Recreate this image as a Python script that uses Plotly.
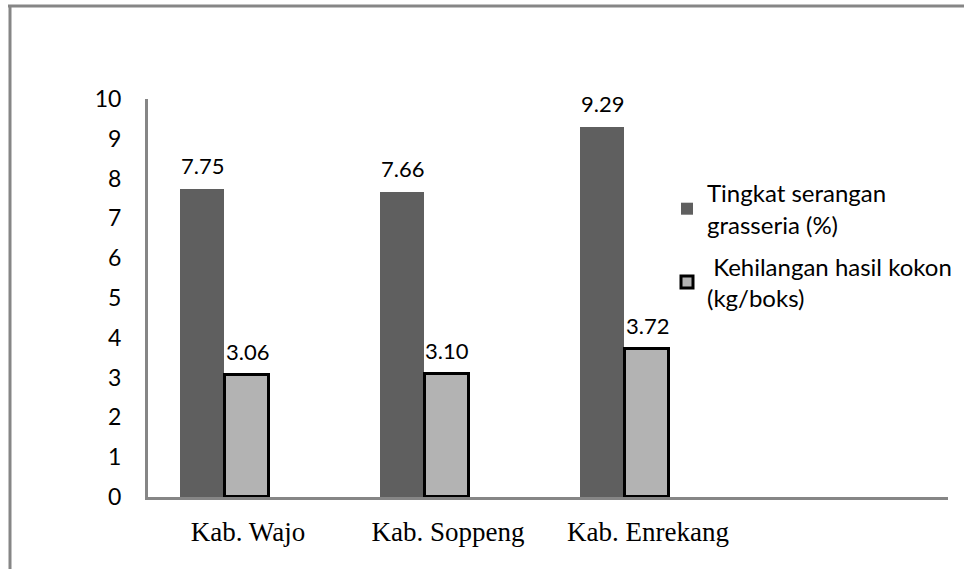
import plotly.graph_objects as go

categories = ["Kab. Wajo", "Kab. Soppeng", "Kab. Enrekang"]
serangan = [7.75, 7.66, 9.29]
kehilangan = [3.06, 3.10, 3.72]
serangan_name = "Tingkat serangan<br>grasseria (%)"
kehilangan_name = " Kehilangan hasil kokon<br>(kg/boks)"
y_ticks = list(range(0, 11))

W, H = 964, 569
L, R, T, B = 148, 16, 99, 72
pw, ph = W - L - R, H - T - B

BAR_W = 0.22
OFF1 = -0.34
OFF2 = -0.115
AX = "#868686"

fig = go.Figure()
fig.add_trace(go.Bar(
    x=categories, y=serangan, name=serangan_name,
    marker=dict(color="#5f5f5f", line=dict(width=0)),
    width=BAR_W, offset=OFF1, legendgroup="a",
))
fig.add_trace(go.Bar(
    x=categories, y=kehilangan, name=kehilangan_name,
    marker=dict(color="#b3b3b3", line=dict(color="black", width=3)),
    width=BAR_W, offset=OFF2, legendgroup="b",
))

annots = []
for i, v in enumerate(serangan):
    annots.append(dict(x=i + OFF1 + BAR_W / 2, y=v, xref="x", yref="y",
                       text=f"{v:.2f}", showarrow=False, yanchor="bottom",
                       yshift=8, font=dict(family="Lato", size=22, color="black")))
for i, v in enumerate(kehilangan):
    annots.append(dict(x=i + OFF2 + BAR_W / 2, y=v, xref="x", yref="y",
                       text=f"{v:.2f}", showarrow=False, yanchor="bottom",
                       yshift=8, font=dict(family="Lato", size=22, color="black")))

def px_x(p):
    return (p - L) / pw

def px_y(p):
    return (H - B - p) / ph

shapes = [
    dict(type="line", xref="paper", yref="paper", x0=px_x(8), x1=px_x(966),
         y0=px_y(6), y1=px_y(6), line=dict(color=AX, width=3)),
    dict(type="line", xref="paper", yref="paper", x0=px_x(10), x1=px_x(10),
         y0=px_y(5), y1=px_y(570), line=dict(color=AX, width=3)),
]

fig.update_layout(
    width=W, height=H, autosize=False,
    margin=dict(l=L, r=R, t=T, b=B, autoexpand=False),
    paper_bgcolor="white", plot_bgcolor="white",
    showlegend=True,
    legend=dict(x=px_x(667), y=px_y(171), xanchor="left", yanchor="top",
                font=dict(family="Lato", size=24, color="black"),
                bgcolor="rgba(0,0,0,0)", traceorder="grouped", tracegroupgap=8),
    annotations=annots,
    shapes=shapes,
    xaxis=dict(type="category", range=[-0.5, 3.5], showline=True, linecolor=AX,
               linewidth=3, showgrid=False, zeroline=False, ticks="",
               tickfont=dict(family="Liberation Serif", size=27, color="black"),
               ticklabelstandoff=9, automargin=False),
    yaxis=dict(range=[0, 10], tickvals=y_ticks, showline=True, linecolor=AX,
               linewidth=3, showgrid=False, zeroline=False, ticks="",
               tickfont=dict(family="Lato", size=23, color="black"),
               ticklabelstandoff=19, automargin=False),
    bargap=0,
)

fig.write_html("out.html")
